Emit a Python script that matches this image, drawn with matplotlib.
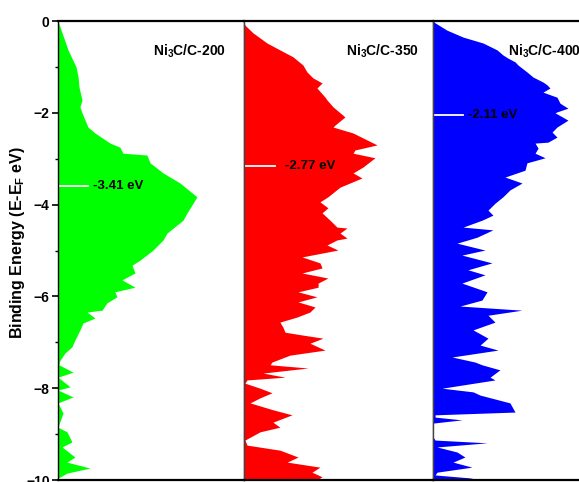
import matplotlib
matplotlib.use("Agg")
import matplotlib.pyplot as plt
from matplotlib.ticker import MultipleLocator

plt.rcParams['font.family'] = ['Liberation Sans', 'DejaVu Sans']
plt.rcParams['font.weight'] = 'bold'
plt.rcParams['mathtext.fontset'] = 'custom'
plt.rcParams['mathtext.rm'] = 'Liberation Sans:bold'
plt.rcParams['mathtext.bf'] = 'Liberation Sans:bold'
plt.rcParams['mathtext.it'] = 'Liberation Sans:bold'

# ---------------- data ----------------
labels = [r'Ni$_{\mathbf{3}}$C/C-200', r'Ni$_{\mathbf{3}}$C/C-350', r'Ni$_{\mathbf{3}}$C/C-400']
colors = ['#00FF00', '#FF0000', '#0000FF']
center_labels = ['-3.41 eV', '-2.77 eV', '-2.11 eV']
center_pos = [-3.59, -3.16, -2.05]

E_g = [0, -0.26, -0.63, -1.00, -1.22, -1.44, -1.72, -1.87, -2.00, -2.31, -2.44, -2.66, -2.75, -2.88,
       -2.92, -3.09, -3.31, -3.53, -3.83, -3.97, -4.18, -4.34, -4.62, -4.77, -4.99, -5.21, -5.32,
       -5.49, -5.64, -5.80, -5.90, -6.01, -6.14, -6.30, -6.34, -6.47, -6.58, -6.73, -6.95, -7.10,
       -7.23, -7.39, -7.49, -7.65, -7.76, -7.97, -8.04, -8.19, -8.32, -8.54, -8.85, -8.95, -9.17,
       -9.28, -9.50, -9.61, -9.74, -9.85, -9.96, -10]
D_g = [0, 0.22, 0.54, 0.97, 1.08, 1.13, 1.29, 1.18, 1.29, 1.61, 1.99, 2.80, 3.33, 3.49, 4.78, 4.95,
       5.65, 6.56, 7.47, 7.26, 6.94, 6.72, 5.86, 5.65, 5.11, 4.41, 3.98, 4.14, 3.44, 4.14, 3.06, 3.17,
       2.63, 2.37, 1.56, 1.99, 1.34, 1.18, 0.91, 0.75, 0.38, 0.11, 0.05, 0.81, 0, 0.65, 0, 0.81, 0,
       0.27, 0, 0.48, 0.75, 0.22, 0.91, 0.48, 1.72, 0.48, 0, 0]

E_r = [0, -0.09, -0.26, -0.48, -0.63, -0.78, -0.96, -1.11, -1.24, -1.35, -1.46, -1.66, -1.72, -1.87,
       -2.09, -2.27, -2.31, -2.44, -2.70, -2.81, -2.88, -2.98, -3.18, -3.31, -3.42, -3.62, -3.83,
       -3.94, -4.07, -4.18, -4.34, -4.49, -4.51, -4.62, -4.73, -4.77, -4.88, -4.99, -5.14, -5.27,
       -5.38, -5.49, -5.60, -5.71, -5.80, -5.90, -6.01, -6.12, -6.23, -6.34, -6.45, -6.56, -6.67,
       -6.78, -6.84, -6.91, -7.02, -7.17, -7.28, -7.43, -7.49, -7.56, -7.67, -7.76, -7.82, -7.89,
       -8.00, -8.10, -8.21, -8.32, -8.47, -8.58, -8.74, -8.85, -8.95, -9.13, -9.24, -9.35, -9.50,
       -9.61, -9.72, -9.83, -9.93, -10.0]
D_r = [0, 0.05, 0.48, 1.22, 1.90, 2.59, 3.12, 3.33, 3.65, 4.13, 3.86, 4.29, 4.39, 4.71, 5.34, 4.81,
       4.71, 5.77, 7.04, 5.87, 5.77, 6.93, 6.30, 5.77, 6.24, 5.08, 4.44, 4.02, 4.44, 4.13, 4.55, 4.92,
       5.45, 5.08, 5.45, 4.92, 4.39, 4.97, 3.07, 4.02, 4.13, 3.07, 4.44, 3.92, 3.92, 2.86, 3.86, 2.86,
       3.76, 3.49, 2.80, 1.90, 2.06, 2.17, 3.07, 4.18, 3.49, 4.29, 2.43, 1.48, 1.38, 3.39, 1.01, 2.17,
       0.16, 0.05, 0.85, 1.48, 0.85, 0.32, 1.53, 2.54, 1.53, 1.90, 0.85, 0.05, 0.16, 1.90, 2.86, 2.28,
       4.02, 3.60, 4.13, 3.86]

E_b = [0, -0.04, -0.20, -0.35, -0.48, -0.63, -0.74, -0.81, -0.89, -0.96, -1.11, -1.22, -1.33, -1.39,
       -1.46, -1.55, -1.66, -1.79, -1.90, -1.98, -2.00, -2.16, -2.31, -2.42, -2.53, -2.64, -2.66,
       -2.77, -2.88, -2.98, -3.09, -3.25, -3.40, -3.53, -3.68, -3.83, -3.97, -4.12, -4.23, -4.34,
       -4.49, -4.55, -4.71, -4.77, -4.84, -4.99, -5.10, -5.27, -5.42, -5.53, -5.71, -5.90, -6.08,
       -6.21, -6.30, -6.41, -6.56, -6.73, -6.91, -7.06, -7.17, -7.32, -7.43, -7.49, -7.60, -7.76,
       -7.82, -8.00, -8.08, -8.15, -8.32, -8.52, -8.58, -8.63, -8.69, -8.76, -8.85, -9.06, -9.13,
       -9.19, -9.28, -9.39, -9.50, -9.61, -9.72, -9.83, -9.89, -9.96, -10.0]
D_b = [0, 0.11, 0.74, 1.59, 2.65, 3.39, 3.70, 3.97, 4.34, 4.50, 4.97, 5.29, 5.82, 6.03, 6.19, 5.82,
       6.56, 6.72, 7.14, 6.56, 6.46, 7.14, 6.56, 6.30, 6.56, 6.08, 5.40, 5.56, 5.40, 5.93, 4.97, 4.87,
       3.81, 4.71, 4.07, 3.70, 3.28, 2.91, 3.17, 2.59, 1.59, 3.17, 2.33, 1.85, 1.27, 2.75, 1.53, 3.12,
       1.85, 2.75, 1.53, 2.86, 2.59, 1.43, 4.71, 2.91, 3.28, 2.12, 2.91, 2.49, 3.44, 1.01, 2.22, 2.59,
       3.54, 3.02, 3.28, 0.48, 2.12, 2.49, 4.07, 4.34, 0.11, 0.11, 1.53, 0, 0, 0, 0.11, 2.86, 0.21,
       1.27, 1.69, 1.06, 2.06, 0.21, 0.11, 2.12, 1.06]

energies = [E_g, E_r, E_b]
dos = [D_g, D_r, D_b]

# ---------------- layout ----------------
W, H = 579, 482
fig = plt.figure(figsize=(W / 100, H / 100), dpi=100)
top_px, bot_px = 21, 480
lefts = [58, 244, 433]
widths = [186, 189, 189]
label_x = [5.1, 5.4, 3.95]
center_line_len = [1.61, 1.64, 1.59]
center_text_x = [1.9, 2.17, 1.85]

axes = []
for i in range(3):
    ax = fig.add_axes([lefts[i] / W, 1 - bot_px / H, widths[i] / W, (bot_px - top_px) / H])
    axes.append(ax)
    ax.fill_betweenx(energies[i], 0, dos[i], color=colors[i], lw=0)
    ax.set_xlim(0, 10)
    ax.set_ylim(-10, 0)
    ax.set_xticks([])
    ax.plot([0, center_line_len[i]], [center_pos[i], center_pos[i]], color='white', lw=1.3)
    ax.text(center_text_x[i], center_pos[i], center_labels[i], fontsize=9.5, fontweight='bold',
            ha='left', va='center', color='black')
    ax.text(label_x[i], -0.65, labels[i], fontsize=10, fontweight='bold', ha='left', va='center')
    for s in ['top', 'bottom']:
        ax.spines[s].set_color('black')
        ax.spines[s].set_linewidth(1.6)
    for s in ['left', 'right']:
        ax.spines[s].set_color('#444444')
        ax.spines[s].set_linewidth(1.0)
    if i == 0:
        ax.spines['left'].set_color('black')
        ax.yaxis.set_major_locator(MultipleLocator(2))
        ax.yaxis.set_minor_locator(MultipleLocator(1))
        ax.tick_params(axis='y', which='major', direction='out', length=4, width=1.2,
                       labelsize=10, pad=2)
        ax.tick_params(axis='y', which='minor', direction='out', length=2.5, width=1.0)
        for t in ax.get_yticklabels():
            t.set_fontweight('bold')
        ax.set_ylabel(r'Binding Energy (E-E$_{\mathbf{F}}$ eV)', fontsize=11.5, fontweight='bold')
        ax.yaxis.set_label_coords(-0.165, 0.516)
    else:
        ax.set_yticks([])
        ax.tick_params(axis='y', which='both', left=False, labelleft=False)

fig.savefig('out.png', dpi=100)
